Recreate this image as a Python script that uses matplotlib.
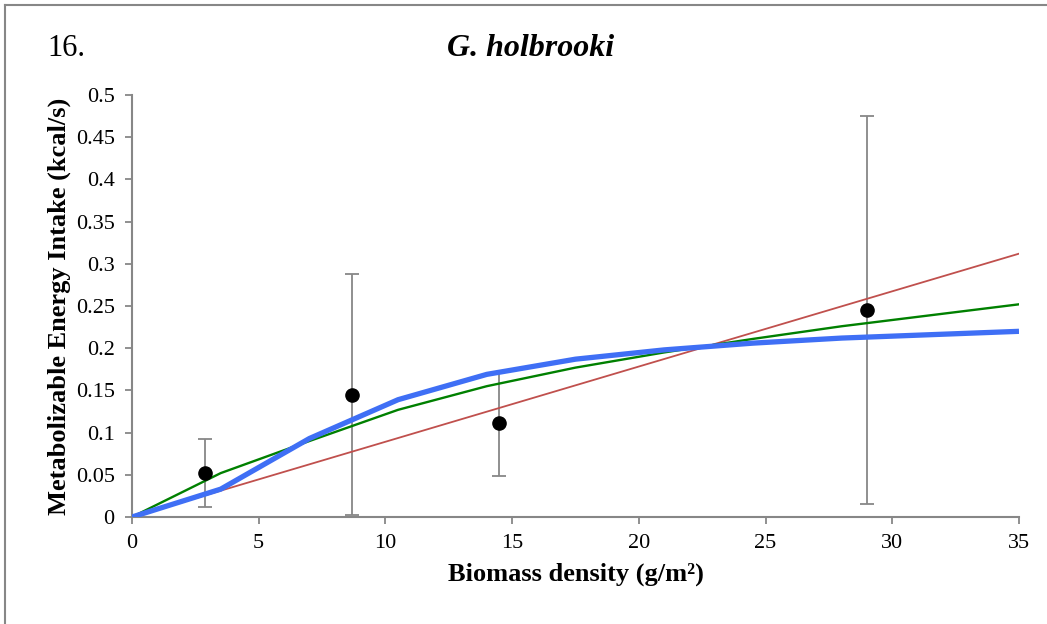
import matplotlib.pyplot as plt
from matplotlib.lines import Line2D

# observed means with error bars
obs_x = [2.9, 8.7, 14.5, 29.0]
obs_y = [0.052, 0.145, 0.111, 0.245]
err_lo = [0.012, 0.002, 0.049, 0.015]
err_hi = [0.093, 0.288, 0.172, 0.475]

# model curves
curve_x = [0, 3.5, 7, 10.5, 14, 17.5, 21, 24.5, 28, 31.5, 35]
green_y = [0, 0.052, 0.090, 0.127, 0.155, 0.177, 0.195, 0.211, 0.226, 0.239, 0.252]
blue_y = [0, 0.033, 0.093, 0.139, 0.169, 0.187, 0.198, 0.206, 0.212, 0.216, 0.220]
red_x = [0, 35]
red_y = [0, 0.312]

x_ticks = [0, 5, 10, 15, 20, 25, 30, 35]
y_ticks = [0, 0.05, 0.1, 0.15, 0.2, 0.25, 0.3, 0.35, 0.4, 0.45, 0.5]
y_labels = ["0", "0.05", "0.1", "0.15", "0.2", "0.25", "0.3", "0.35", "0.4", "0.45", "0.5"]

plt.rcParams['font.family'] = ['Liberation Serif', 'DejaVu Serif']

fig = plt.figure(figsize=(10.47, 6.24), dpi=100)
ax = fig.add_axes([132 / 1047, 1 - 517 / 624, (1019 - 132) / 1047, (517 - 95) / 624])

grey = "#878787"

ax.plot(red_x, red_y, color="#c0504d", lw=1.3, zorder=3)
ax.plot(curve_x, green_y, color="#008000", lw=1.7, zorder=3)
ax.plot(curve_x, blue_y, color="#3f6ff5", lw=3.8, zorder=4, solid_capstyle="butt")

yerr = [[y - lo for y, lo in zip(obs_y, err_lo)], [hi - y for y, hi in zip(obs_y, err_hi)]]
ax.errorbar(obs_x, obs_y, yerr=yerr, fmt="none", ecolor=grey, elinewidth=1.3,
            capsize=5, capthick=1.3, zorder=2)
ax.plot(obs_x, obs_y, "o", color="black", ms=9.5, zorder=5)

ax.set_xlim(0, 35)
ax.set_ylim(0, 0.5)
ax.set_xticks(x_ticks)
ax.set_xticklabels([str(t) for t in x_ticks])
ax.set_yticks(y_ticks)
ax.set_yticklabels(y_labels)
ax.tick_params(axis="both", labelsize=16, color=grey, width=1.3, length=5)
ax.tick_params(axis="y", pad=7.5)
ax.tick_params(axis="x", pad=7)

for s in ["top", "right"]:
    ax.spines[s].set_visible(False)
for s in ["left", "bottom"]:
    ax.spines[s].set_color(grey)
    ax.spines[s].set_linewidth(1.5)

ax.set_xlabel("Biomass density (g/m²)", fontsize=19, fontweight="bold", labelpad=7)
ax.set_ylabel("Metabolizable Energy Intake (kcal/s)", fontsize=19, fontweight="bold", labelpad=3)

fig.text(531 / 1047, 1 - 48 / 624, "G. holbrooki", fontsize=23, fontweight="bold",
         fontstyle="italic", ha="center", va="center")
fig.text(47 / 1047, 1 - 48 / 624, "16.", fontsize=22, va="center", ha="left")

# page frame (left and top only)
fig.add_artist(Line2D([5 / 1047, 5 / 1047], [0, 1 - 5 / 624], color=grey, lw=1.5))
fig.add_artist(Line2D([5 / 1047, 1], [1 - 5 / 624, 1 - 5 / 624], color=grey, lw=1.5))

fig.savefig("out.png", dpi=100)
